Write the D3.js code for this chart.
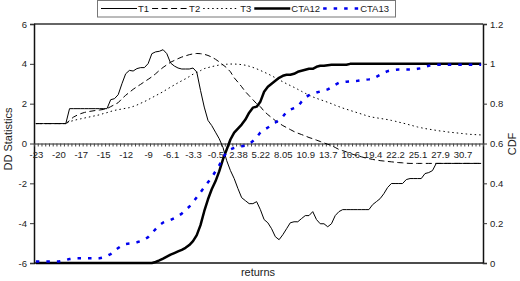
<!DOCTYPE html>
<html>
<head>
<meta charset="utf-8">
<script src="https://cdn.jsdelivr.net/npm/d3@7"></script>
<style>
  body { margin: 0; background: #fff; }
  text { font-family: "Liberation Sans", Arial, sans-serif; fill: #222; }
</style>
</head>
<body>
<div id="chart"></div>
<script>
// category axis labels (every 6th category of 120)
var tickLabels = ["-23","-20","-17","-15","-12","-9","-6.1","-3.3","-0.5","2.38",
                  "5.22","8.05","10.9","13.7","16.6","19.4","22.2","25.1","27.9","30.7"];
var nCat = 120;

// DD statistics (left axis)
var T1 = [1,1,1,1,1,1,1,1,1,
  1.75,1.75,1.75,1.75,1.75,1.75,1.75,1.75,1.75,1.75,1.75,
  2.2,2.25,2.45,3.0,3.5,3.67,3.64,3.76,3.81,3.81,
  4.01,4.51,4.6,4.63,4.71,4.51,4.04,3.89,3.79,3.74,
  3.74,3.74,3.79,3.59,2.67,1.83,1.16,0.9,0.57,0.24,
  -0.19,-0.86,-1.36,-1.76,-2.26,-2.72,-2.87,-3.02,-3.02,-2.92,
  -3.32,-3.82,-3.98,-4.28,-4.68,-4.83,-4.58,-4.28,-3.98,-3.93,
  -3.93,-3.77,-3.62,-3.62,-3.42,-3.82,-4.03,-4.03,-4.18,-4.03,
  -3.62,-3.42,-3.32,-3.32,-3.32,-3.32,-3.32,-3.32,-3.32,-3.32,
  -3.07,-2.92,-2.77,-2.52,-2.21,-2.01,-2.01,-2.01,-2.01,-1.81,
  -1.76,-1.76,-1.76,-1.76,-1.51,-1.46,-1.36,-1.0,-1,-1,
  -1,-1,-1,-1,-1,-1,-1,-1,-1,-1];

var T2 = [1,1,1,1,1,1,1,1,1,1.15,
  1.32,1.42,1.5,1.56,1.6,1.63,1.66,1.68,1.71,1.75,
  1.85,1.95,2.05,2.25,2.42,2.57,2.72,2.85,2.97,3.1,
  3.22,3.35,3.5,3.67,3.82,3.95,4.08,4.17,4.26,4.34,
  4.4,4.46,4.5,4.52,4.51,4.48,4.42,4.34,4.23,4.1,
  3.95,3.8,3.6,3.3,3.08,2.85,2.6,2.4,2.2,2.0,
  1.85,1.62,1.45,1.3,1.15,1.02,0.9,0.8,0.7,0.6,
  0.52,0.45,0.38,0.3,0.24,0.17,0.1,0.03,-0.04,-0.1,
  -0.2,-0.3,-0.36,-0.42,-0.5,-0.56,-0.62,-0.67,-0.72,-0.76,
  -0.8,-0.83,-0.86,-0.88,-0.9,-0.92,-0.94,-0.96,-0.97,-0.99,
  -1,-1,-1,-1,-1,-1,-1,-1,-1,-1,
  -1,-1,-1,-1,-1,-1,-1,-1,-1,-1];

var T3 = [1,1,1,1,1,1,1,1,1,1.1,
  1.15,1.2,1.24,1.28,1.32,1.36,1.4,1.44,1.5,1.55,
  1.61,1.66,1.7,1.73,1.77,1.8,1.86,1.93,2.02,2.1,
  2.2,2.3,2.4,2.5,2.6,2.72,2.83,2.94,3.05,3.15,
  3.25,3.36,3.48,3.57,3.66,3.76,3.81,3.86,3.9,3.94,
  3.96,3.98,3.99,3.99,3.98,3.96,3.93,3.88,3.82,3.75,
  3.67,3.58,3.5,3.4,3.3,3.2,3.1,3.0,2.91,2.82,
  2.72,2.62,2.52,2.43,2.34,2.27,2.2,2.14,2.07,2.0,
  1.92,1.85,1.78,1.72,1.66,1.6,1.54,1.48,1.42,1.36,
  1.32,1.29,1.26,1.23,1.2,1.16,1.12,1.07,1.03,0.98,
  0.93,0.88,0.83,0.79,0.75,0.72,0.69,0.66,0.63,0.61,
  0.58,0.56,0.54,0.52,0.5,0.48,0.46,0.45,0.44,0.43];

// CDF (right axis)
var CTA12 = [0,0,0,0,0,0,0,0,0,0,
  0,0,0,0,0,0,0,0,0,0,
  0,0,0,0,0,0,0,0,0,0,
  0,0,0.005,0.013,0.022,0.032,0.042,0.05,0.058,0.066,
  0.076,0.09,0.11,0.14,0.19,0.26,0.32,0.37,0.41,0.46,
  0.52,0.57,0.62,0.655,0.675,0.695,0.72,0.755,0.78,0.785,
  0.81,0.86,0.885,0.9,0.915,0.93,0.94,0.945,0.945,0.95,
  0.96,0.965,0.97,0.975,0.975,0.985,0.99,0.99,0.993,0.995,
  0.995,0.995,0.995,0.995,1,1,1,1,1,1,
  1,1,1,1,1,1,1,1,1,1,
  1,1,1,1,1,1,1,1,1,1,
  1,1,1,1,1,1,1,1,1,1];

var CTA13 = [0.007,0.007,0.007,0.007,0.007,0.007,0.007,0.01,0.015,0.02,
  0.022,0.024,0.024,0.024,0.024,0.024,0.024,0.024,0.028,0.035,
  0.045,0.062,0.075,0.088,0.095,0.098,0.1,0.104,0.11,0.118,
  0.13,0.15,0.17,0.19,0.203,0.21,0.216,0.225,0.236,0.248,
  0.265,0.283,0.305,0.33,0.355,0.38,0.405,0.43,0.46,0.49,
  0.53,0.555,0.57,0.578,0.583,0.586,0.59,0.598,0.612,0.632,
  0.655,0.668,0.68,0.693,0.705,0.718,0.735,0.758,0.77,0.778,
  0.785,0.81,0.83,0.843,0.85,0.856,0.861,0.866,0.872,0.882,
  0.895,0.905,0.908,0.91,0.911,0.913,0.915,0.918,0.92,0.922,
  0.925,0.935,0.945,0.955,0.963,0.968,0.97,0.972,0.972,0.972,
  0.972,0.972,0.975,0.978,0.985,0.99,0.995,0.995,0.995,0.995,
  0.995,0.995,0.995,0.995,0.995,0.995,0.995,0.995,0.995,0.995];

var leftTicks = [-6,-4,-2,0,2,4,6];
var rightTicks = [0,0.2,0.4,0.6,0.8,1,1.2];

var width = 520, height = 281;
var plot = {left: 34, right: 483, top: 24, bottom: 263};
var fontFam = "Liberation Sans, Arial, sans-serif";

var svg = d3.select("#chart").append("svg")
    .attr("width", width)
    .attr("height", height);

// scales
var x = d3.scaleLinear().domain([0, nCat]).range([plot.left, plot.right]);
var yL = d3.scaleLinear().domain([-6, 6]).range([plot.bottom, plot.top]);
var yR = d3.scaleLinear().domain([0, 1.2]).range([plot.bottom, plot.top]);

// plot frame top + bottom
svg.append("line")
    .attr("x1", plot.left).attr("x2", plot.right)
    .attr("y1", plot.top).attr("y2", plot.top)
    .attr("stroke", "#333").attr("stroke-width", 1.5);
svg.append("line")
    .attr("x1", plot.left).attr("x2", plot.right)
    .attr("y1", plot.bottom).attr("y2", plot.bottom)
    .attr("stroke", "#111").attr("stroke-width", 1.5);

// left axis
var gl = svg.append("g")
    .attr("transform", "translate(" + plot.left + ",0)")
    .call(d3.axisLeft(yL).tickValues(leftTicks).tickSize(4).tickFormat(function(d) { return String(d); }));
// right axis
var gr = svg.append("g")
    .attr("transform", "translate(" + plot.right + ",0)")
    .call(d3.axisRight(yR).tickValues(rightTicks).tickSize(4).tickFormat(function(d) { return String(d); }));

[gl, gr].forEach(function(g) {
  g.select(".domain").attr("stroke", "#111").attr("stroke-width", 1.5);
  g.selectAll(".tick line").attr("stroke", "#333");
  g.selectAll(".tick text").attr("font-size", "9.5px")
    .attr("font-family", fontFam).attr("fill", "#222");
});

// category axis at y = 0, minor ticks at every category boundary
var gx = svg.append("g")
    .attr("transform", "translate(0," + yL(0) + ")")
    .call(d3.axisBottom(x).tickValues(d3.range(0, nCat + 1)).tickSize(3).tickSizeOuter(0).tickFormat(""));
gx.select(".domain").attr("stroke", "#222").attr("stroke-width", 1);
gx.selectAll(".tick line").attr("stroke", "#444");

// category labels every 6th category, centred on the category
var gxl = svg.append("g")
    .attr("transform", "translate(0," + yL(0) + ")")
    .call(d3.axisBottom(x)
      .tickValues(tickLabels.map(function(d, i) { return i * 6 + 0.5; }))
      .tickSize(0)
      .tickPadding(8)
      .tickFormat(function(d, i) { return tickLabels[i]; }));
gxl.select(".domain").remove();
gxl.selectAll(".tick text").attr("font-size", "9.5px")
  .attr("font-family", fontFam).attr("fill", "#222");

// series
var series = [
  {name: "T1", values: T1, y: yL, color: "#000", width: 1, dash: null},
  {name: "T2", values: T2, y: yL, color: "#000", width: 1, dash: "6,3.5"},
  {name: "T3", values: T3, y: yL, color: "#000", width: 1, dash: "1.5,3"},
  {name: "CTA12", values: CTA12, y: yR, color: "#000", width: 2.5, dash: null},
  {name: "CTA13", values: CTA13, y: yR, color: "#0000ee", width: 2.5, dash: "3.5,7"}
];

series.forEach(function(s) {
  var line = d3.line()
    .x(function(d, i) { return x(i + 0.5); })
    .y(function(d) { return s.y(d); });
  svg.append("path")
    .datum(s.values)
    .attr("fill", "none")
    .attr("stroke", s.color)
    .attr("stroke-width", s.width)
    .attr("stroke-dasharray", s.dash)
    .attr("stroke-linejoin", "round")
    .attr("d", line);
});

// axis titles
svg.append("text")
    .attr("transform", "translate(12,139) rotate(-90)")
    .attr("text-anchor", "middle")
    .attr("font-size", "11px")
    .text("DD Statistics");
svg.append("text")
    .attr("transform", "translate(516,144) rotate(-90)")
    .attr("text-anchor", "middle")
    .attr("font-size", "11px")
    .text("CDF");
svg.append("text")
    .attr("x", 258).attr("y", 276)
    .attr("text-anchor", "middle")
    .attr("font-size", "11px")
    .text("returns");

// legend
var legend = svg.append("g");
legend.append("rect")
    .attr("x", 97.5).attr("y", 0.5)
    .attr("width", 298).attr("height", 16.5)
    .attr("fill", "#fff")
    .attr("stroke", "#777");
var lx = 101;
series.forEach(function(s) {
  legend.append("line")
    .attr("x1", lx).attr("x2", lx + 36)
    .attr("y1", 8.5).attr("y2", 8.5)
    .attr("stroke", s.color)
    .attr("stroke-width", s.width)
    .attr("stroke-dasharray", s.dash);
  var t = legend.append("text")
    .attr("x", lx + 37).attr("y", 12)
    .attr("font-size", "9.5px")
    .text(s.name);
  lx = lx + 37 + t.node().getComputedTextLength() + 3;
});
</script>
</body>
</html>
